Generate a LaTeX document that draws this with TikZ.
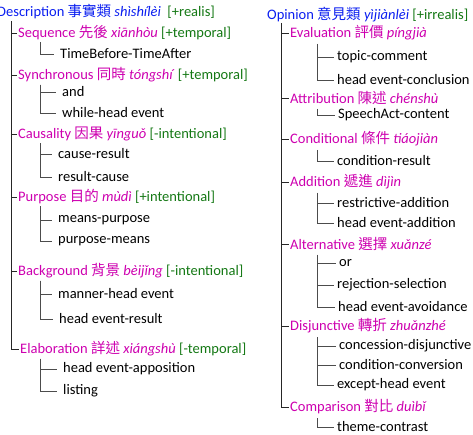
\documentclass[tikz,border=0pt]{standalone}
\usepackage{fontspec}
\setmainfont{Carlito}
\newfontfamily\cjk{Noto Sans CJK TC}
\usetikzlibrary{positioning, calc}

\definecolor{clsblue}{RGB}{10,30,240}
\definecolor{relpink}{RGB}{205,0,175}
\definecolor{featgreen}{RGB}{20,120,20}

\newcommand{\zh}[1]{{\cjk #1}}
\newcommand{\py}[1]{\textit{#1}}
\newcommand{\feat}[1]{\textcolor{featgreen}{#1}}

\tikzset{
    cls/.style={anchor=west, inner sep=1pt, text=clsblue},
    rel/.style={anchor=west, inner sep=1pt, text=relpink},
    leaf/.style={anchor=west, inner sep=1pt, text=black},
    trunk/.style={draw=black!85, line width=0.9pt},
    twig/.style={draw=black!70, line width=0.9pt},
}

\begin{document}
\begin{tikzpicture}[x=1pt, y=-1pt, font=\fontsize{14.5}{16}\selectfont]
    \useasboundingbox (0,0) rectangle (473,435);

    \node[cls] (desc) at (-4,12) {Description \zh{事實類} \py{shìshílèi}\ \ \feat{[+realis]}};
    \coordinate (rootL) at (11,21);

    \node[rel] (seq) at (17,33) {Sequence \zh{先後} \py{xiānhòu}\ \feat{[+temporal]}};
    \node[leaf] (seqa) at (59,54) {TimeBefore-TimeAfter};

    \node[rel] (sync) at (17,75) {Synchronous \zh{同時} \py{tóngshí}\ \feat{[+temporal]}};
    \node[leaf] (synca) at (61,92) {and};
    \node[leaf] (syncb) at (61,113) {while-head event};

    \node[rel] (caus) at (17,134) {Causality \zh{因果} \py{yīnguǒ} \feat{[-intentional]}};
    \node[leaf] (causa) at (57,154) {cause-result};
    \node[leaf] (causb) at (57,177) {result-cause};

    \node[rel] (purp) at (17,197) {Purpose \zh{目的} \py{mùdì} \feat{[+intentional]}};
    \node[leaf] (purpa) at (57,220) {means-purpose};
    \node[leaf] (purpb) at (57,241) {purpose-means};

    \node[rel] (back) at (17,271) {Background \zh{背景} \py{bèijǐng} \feat{[-intentional]}};
    \node[leaf] (backa) at (57,294) {manner-head event};
    \node[leaf] (backb) at (58,319) {head event-result};

    \node[rel] (elab) at (19,349) {Elaboration \zh{詳述} \py{xiángshù}\ \feat{[-temporal]}};
    \node[leaf] (elaba) at (62,369) {head event-apposition};
    \node[leaf] (elabb) at (62,391) {listing};

    \draw[trunk] (rootL) |- (elab.west);
    \foreach \r in {seq, sync, caus, purp, back}
        \draw[trunk] (rootL |- \r.west) -- (\r.west);

    \foreach \r/\kids in {seq/{seqa}, sync/{synca,syncb}, caus/{causa,causb}, purp/{purpa,purpb}, back/{backa,backb}, elab/{elaba,elabb}} {
        \coordinate (\r top) at ($(\r.west |- \r.south)+(22,1)$);
        \coordinate (\r top) at (40,0 |- \r top);
        \foreach \k in \kids
            \draw[twig, shorten >=5pt] (\r top) |- (\k.west);
    }

    \node[cls] (opin) at (266,15) {Opinion \zh{意見類} \py{yìjiànlèi} \feat{[+irrealis]}};
    \coordinate (rootR) at (281,23);

    \node[rel] (eval) at (289,33) {Evaluation \zh{評價} \py{píngjià}};
    \node[leaf] (evala) at (336,57) {topic-comment};
    \node[leaf] (evalb) at (336,80) {head event-conclusion};

    \node[rel] (attr) at (289,98) {Attribution \zh{陳述} \py{chénshù}};
    \node[leaf] (attra) at (337,115) {SpeechAct-content};

    \node[rel] (cond) at (289,139) {Conditional \zh{條件} \py{tiáojiàn}};
    \node[leaf] (conda) at (336,161) {condition-result};

    \node[rel] (addi) at (289,182) {Addition \zh{遞進} \py{dìjìn}};
    \node[leaf] (addia) at (336,203) {restrictive-addition};
    \node[leaf] (addib) at (336,223) {head event-addition};

    \node[rel] (alte) at (289,244) {Alternative \zh{選擇} \py{xuǎnzé}};
    \node[leaf] (altea) at (338,263) {or};
    \node[leaf] (alteb) at (336,285) {rejection-selection};
    \node[leaf] (altec) at (337,307) {head event-avoidance};

    \node[rel] (disj) at (289,326) {Disjunctive \zh{轉折} \py{zhuǎnzhé}};
    \node[leaf] (disja) at (338,346) {concession-disjunctive};
    \node[leaf] (disjb) at (338,365) {condition-conversion};
    \node[leaf] (disjc) at (336,385) {except-head event};

    \node[rel] (comp) at (289,407) {Comparison \zh{對比} \py{duìbǐ}};
    \node[leaf] (compa) at (336,427) {theme-contrast};

    \draw[trunk] (rootR) |- (comp.west);
    \foreach \r in {eval, attr, cond, addi, alte, disj}
        \draw[trunk] (rootR |- \r.west) -- (\r.west);

    \foreach \r/\kids in {eval/{evala,evalb}, attr/{attra}, cond/{conda}, addi/{addia,addib}, alte/{altea,alteb,altec}, disj/{disja,disjb,disjc}, comp/{compa}} {
        \coordinate (\r top) at ($(\r.west)+(0,11)$);
        \coordinate (\r top) at (317,0 |- \r top);
        \foreach \k in \kids
            \draw[twig, shorten >=2pt] (\r top) |- (\k.west);
    }

\end{tikzpicture}
\end{document}
